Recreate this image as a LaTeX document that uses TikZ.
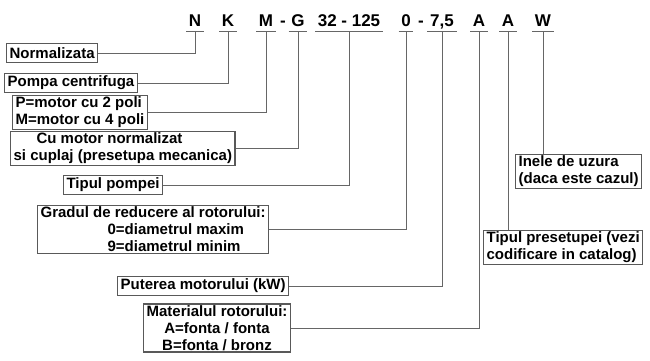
\documentclass[tikz,border=0pt]{standalone}
\usepackage{fontspec}
\setmainfont{Liberation Sans}
\usetikzlibrary{positioning}

\begin{document}
\begin{tikzpicture}[x=1pt, y=-1pt,
  code/.style={anchor=base, font=\fontsize{17}{19}\selectfont\bfseries, text depth=0pt, inner xsep=2.5pt, inner ysep=4pt},
  box/.style={draw=black!65, line width=1.2pt, anchor=west, font=\fontsize{15}{17}\selectfont\bfseries, inner xsep=3pt, inner ysep=1.5pt, minimum height=19pt},
  conn/.style={draw=black!60, line width=0.8pt}]
\useasboundingbox (0,0) rectangle (650,361);
% the type code
\foreach \t/\x/\n in {N/195/cN, K/228/cK, M/266/cM, G/298/cG, 32 - 125/349/cP, 0/406/cD, {7,5}/442/cR, A/479/cA, A/508/cS, W/543/cW} {
    \node[code] (\n) at (\x,27) {\t};
    \draw[conn] (\n.south west) -- (\n.south east);
}
\node[code] (dash1) at (283,27) {-};
\node[code] (dash2) at (421,27) {-};
% explanations
\node[box] (norm) at (6,53) {Normalizata};
\node[box] (pompa) at (4,83) {Pompa centrifuga};
\node[box, align=left] (poli) at (12,112.5) {P=motor cu 2 poli\\M=motor cu 4 poli};
\node[box, align=left] (cuplaj) at (10,148.5) {\hspace*{23pt}Cu motor normalizat\\si cuplaj (presetupa mecanica)};
\node[box] (tip) at (63,185) {Tipul pompei};
\node[box, align=left] (grad) at (37,229.5) {Gradul de reducere al rotorului:\\\hspace*{67pt}0=diametrul maxim\\\hspace*{67pt}9=diametrul minim};
\node[box] (putere) at (117,286) {Puterea motorului (kW)};
\node[box, align=center] (mat) at (143,328) {Materialul rotorului:\\A=fonta / fonta\\B=fonta / bronz};
\node[box, align=left] (inele) at (515,171.5) {Inele de uzura\\(daca este cazul)};
\node[box, align=left] (pres) at (483,247.5) {Tipul presetupei (vezi\\codificare in catalog)};
% connectors
\draw[conn] (norm.east) -| (cN.south);
\draw[conn] (pompa.east) -| (cK.south);
\draw[conn] (poli.east) -| (cM.south);
\draw[conn] (cuplaj.east) -| (cG.south);
\draw[conn] (tip.east) -| (cP.south);
\draw[conn] (grad.east) -| (cD.south);
\draw[conn] (putere.east) -| (cR.south);
\draw[conn] (mat.east) -| (cA.south);
\draw[conn] (cS.south) -- (cS.south |- pres.north);
\draw[conn] (cW.south) -- (cW.south |- inele.north);
\end{tikzpicture}
\end{document}
